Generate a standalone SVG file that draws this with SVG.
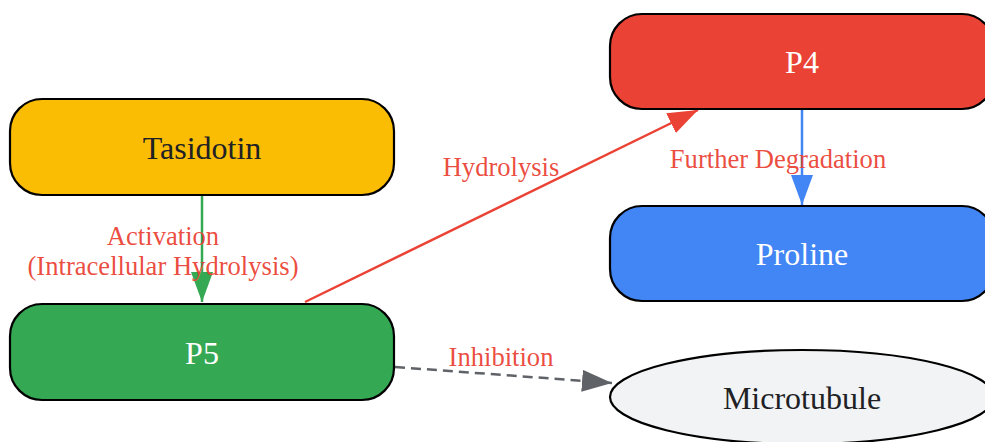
<svg xmlns="http://www.w3.org/2000/svg" width="985" height="442" viewBox="0 0 985 442">
<style>
.node{stroke:#000;stroke-width:2.2}
.nt{font-family:"Liberation Serif",serif;font-size:32px;text-anchor:middle;dominant-baseline:central}
.lt{font-family:"Liberation Serif",serif;font-size:26.6px;text-anchor:middle;fill:#ea4335;fill-opacity:0.95}
.e{fill:none;stroke-width:2.5}
</style>
<defs>
<marker id="ag" viewBox="0 0 30 22" refX="30" refY="11" markerWidth="30" markerHeight="22" markerUnits="userSpaceOnUse" orient="auto"><path d="M0,0L30,11L0,22z" fill="#34a853"/></marker>
<marker id="ar" viewBox="0 0 30 22" refX="30" refY="11" markerWidth="30" markerHeight="22" markerUnits="userSpaceOnUse" orient="auto"><path d="M0,0L30,11L0,22z" fill="#ea4335"/></marker>
<marker id="ab" viewBox="0 0 30 22" refX="30" refY="11" markerWidth="30" markerHeight="22" markerUnits="userSpaceOnUse" orient="auto"><path d="M0,0L30,11L0,22z" fill="#4285f4"/></marker>
<marker id="ay" viewBox="0 0 30 22" refX="30" refY="11" markerWidth="30" markerHeight="22" markerUnits="userSpaceOnUse" orient="auto"><path d="M0,0L30,11L0,22z" fill="#5f6368"/></marker>
</defs>
<g id="connectors">
<path class="e" d="M202,196L202,302" stroke="#34a853" marker-end="url(#ag)"/>
<path class="e" d="M305,302L698,110" stroke="#ea4335" marker-end="url(#ar)"/>
<path class="e" d="M802,110L802,205" stroke="#4285f4" marker-end="url(#ab)"/>
<path class="e" d="M395,367L612,383" stroke="#5f6368" stroke-dasharray="10,6" marker-end="url(#ay)"/>
<text class="lt" x="163" y="245">Activation</text>
<text class="lt" x="163" y="275">(Intracellular Hydrolysis)</text>
<text class="lt" x="501" y="176">Hydrolysis</text>
<text class="lt" x="778" y="168">Further Degradation</text>
<text class="lt" x="501" y="366">Inhibition</text>
</g>
<g id="tasidotin"><rect class="node" x="10" y="99" width="384" height="96" rx="32" fill="#fbbc04"/><text class="nt" x="202" y="148" fill="#202124">Tasidotin</text></g>
<g id="p5"><rect class="node" x="10" y="304" width="384" height="96" rx="32" fill="#34a853"/><text class="nt" x="202" y="353" fill="#fff">P5</text></g>
<g id="p4"><rect class="node" x="610" y="14" width="384" height="95" rx="32" fill="#ea4335"/><text class="nt" x="802" y="62" fill="#fff">P4</text></g>
<g id="proline"><rect class="node" x="610" y="206" width="384" height="95" rx="32" fill="#4285f4"/><text class="nt" x="802" y="254" fill="#fff">Proline</text></g>
<g id="microtubule"><ellipse class="node" cx="802" cy="397" rx="192" ry="47" fill="#f1f3f4"/><text class="nt" x="802" y="398" fill="#202124">Microtubule</text></g>
</svg>
